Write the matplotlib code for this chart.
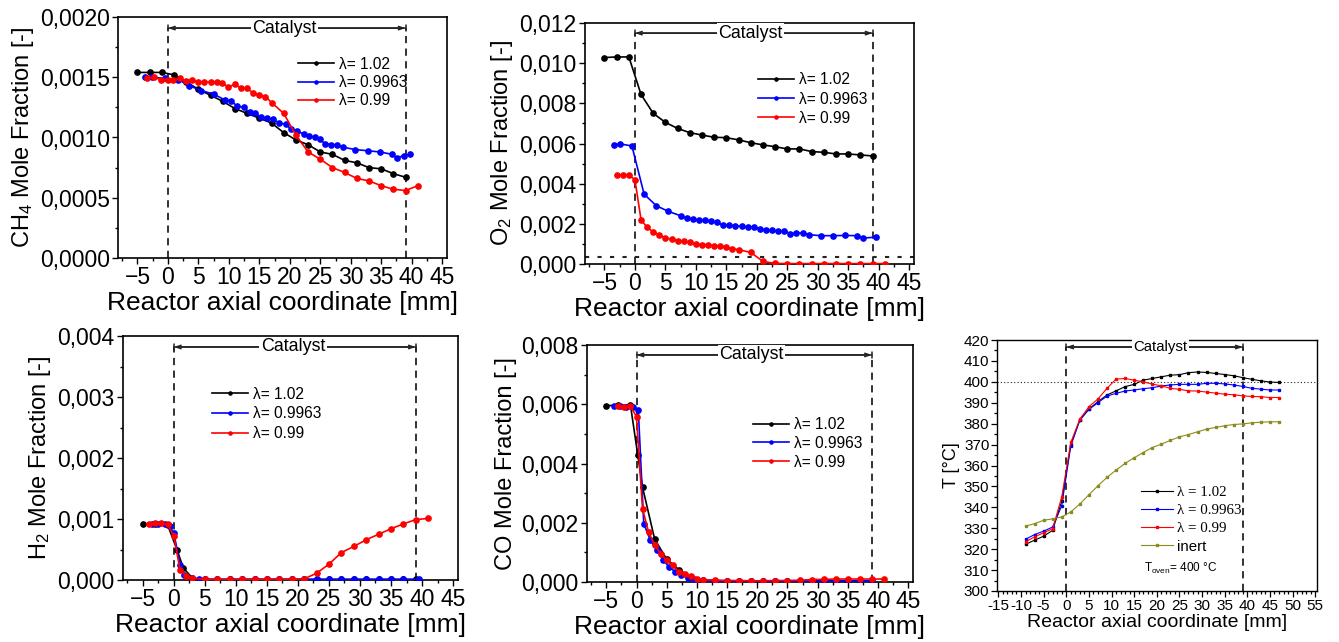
import matplotlib
matplotlib.use("Agg")
import matplotlib.pyplot as plt
from matplotlib.ticker import MultipleLocator, FuncFormatter

plt.rcParams['font.family'] = ['Liberation Sans', 'DejaVu Sans']
plt.rcParams['mathtext.fontset'] = 'custom'
plt.rcParams['mathtext.rm'] = 'Liberation Sans'
plt.rcParams['mathtext.it'] = 'Liberation Sans:italic'

# ---------------- DATA ----------------
labels = ["λ= 1.02", "λ= 0.9963", "λ= 0.99"]
t_labels = ["λ = 1.02", "λ = 0.9963", "λ = 0.99", "inert"]

# CH4
ch4_x_a = [-5, -3, -1, 1, 3, 5, 7, 9, 11, 13, 15, 17, 19, 21, 23, 25, 27, 29, 31, 33, 35, 37, 39]
ch4_y_a = [0.00154, 0.00154, 0.00154, 0.00152, 0.00146, 0.00140, 0.00135, 0.00130, 0.00124, 0.00120,
           0.00116, 0.00112, 0.00104, 0.00098, 0.00094, 0.00088, 0.00086, 0.00081, 0.00079, 0.00075,
           0.00074, 0.00070, 0.00067]
ch4_x_b = [-3.8, -2.6, -0.5, 1.7, 3.5, 5.4, 7.5, 9.4, 10.4, 11.4, 12.4, 13.4, 14.3, 15.3, 16.3, 17.3,
           18.3, 19.3, 20.2, 21.2, 22.3, 23.2, 24.2, 24.9, 25.7, 26.8, 27.7, 28.7, 30.7, 32.8, 34.8,
           36.8, 37.6, 38.7, 39.8]
ch4_y_b = [0.00150, 0.00150, 0.00149, 0.00148, 0.00143, 0.00139, 0.00136, 0.00131, 0.00130, 0.00126,
           0.00125, 0.00121, 0.00120, 0.00117, 0.00116, 0.00115, 0.00112, 0.00111, 0.00107, 0.00105,
           0.00103, 0.00101, 0.00100, 0.00099, 0.00095, 0.00094, 0.00094, 0.00092, 0.00090, 0.00089,
           0.00088, 0.00086, 0.00083, 0.00085, 0.00086]
ch4_x_c = [-3.4, -2.3, -1.1, 0, 0.9, 1.9, 2.9, 3.9, 4.9, 5.9, 7.0, 8.0, 8.9, 9.9, 11, 12, 12.9, 14, 15,
           16, 17, 19, 21, 23, 25, 27, 29, 31, 33, 35, 37, 39, 41]
ch4_y_c = [0.00149, 0.00150, 0.00148, 0.00148, 0.00148, 0.00149, 0.00147, 0.00148, 0.00146, 0.00146,
           0.00146, 0.00146, 0.00145, 0.00142, 0.00144, 0.00141, 0.00141, 0.00137, 0.00135, 0.00134,
           0.00129, 0.00120, 0.00102, 0.00088, 0.00082, 0.00075, 0.00071, 0.00066, 0.00064, 0.00060,
           0.00057, 0.00056, 0.00060]

# O2
o2_x_a = [-5, -3, -1, 1, 3, 5, 7, 9, 11, 13, 15, 17, 19, 21, 23, 25, 27, 29, 31, 33, 35, 37, 39]
o2_y_a = [0.01028, 0.01031, 0.01031, 0.00844, 0.00750, 0.00705, 0.00675, 0.00654, 0.00642, 0.00631,
          0.00629, 0.00618, 0.00604, 0.00593, 0.00584, 0.00573, 0.00573, 0.00560, 0.00556, 0.00548,
          0.00548, 0.00543, 0.00538]
o2_x_b = [-3.5, -2.5, -0.5, 1.5, 3.5, 5.5, 7.5, 8.5, 9.5, 10.5, 11.5, 12.5, 13.5, 14.5, 15.5, 16.5,
          17.5, 18.5, 19.5, 20.5, 21.5, 22.5, 23.5, 24.5, 25.5, 26.5, 27.5, 28.5, 30.5, 32.5, 34.5,
          36.5, 37.5, 39.5]
o2_y_b = [0.00593, 0.00598, 0.00588, 0.00348, 0.00290, 0.00262, 0.00240, 0.00228, 0.00224, 0.00217,
          0.00217, 0.00215, 0.00207, 0.00192, 0.00192, 0.00190, 0.00187, 0.00184, 0.00182, 0.00174,
          0.00170, 0.00167, 0.00162, 0.00166, 0.00151, 0.00154, 0.00154, 0.00146, 0.00141, 0.00141,
          0.00142, 0.00141, 0.00129, 0.00134]
o2_x_c = [-3, -2, -1, 0, 1, 2, 3, 4, 5, 6, 7, 8, 9, 10, 11, 12, 13, 14, 15, 16, 17, 19, 21, 23, 25,
          27, 29, 31, 33, 35, 37, 39, 41]
o2_y_c = [0.00444, 0.00444, 0.00444, 0.00419, 0.00220, 0.00182, 0.00159, 0.00146, 0.00129, 0.00124,
          0.00116, 0.00113, 0.00108, 0.00099, 0.00096, 0.00096, 0.00091, 0.00088, 0.00084, 0.00076,
          0.00071, 0.00058, 0.00013, 0.00003, 0.00002, 0.00002, 0.00002, 0.00002, 0.00002, 0.00002,
          0.00002, 0.00002, 0.00002]
o2_limit = 0.00035

# H2
h2_x_a = [-5, -3, -1, 0.5, 1.5, 3, 5, 7, 9, 11, 13, 15, 17, 19, 21, 23, 25, 27, 29, 31, 33, 35, 37, 39]
h2_y_a = [0.00091, 0.00092, 0.00090, 0.00050, 0.00020, 0.00003, 0.00001, 0.00001, 0.00001, 0.00001,
          0.00001, 0.00001, 0.00001, 0.00001, 0.00001, 0.00001, 0.00001, 0.00001, 0.00001, 0.00001,
          0.00001, 0.00001, 0.00001, 0.00001]
h2_x_b = [-3.5, -2.5, -1.5, -0.7, 0, 1, 1.6, 2.9, 4, 5, 7, 9, 11, 13, 15, 17, 19, 21, 23, 25, 27, 29,
          31, 33, 35, 37, 39.5]
h2_y_b = [0.00092, 0.00092, 0.00092, 0.00088, 0.00077, 0.00025, 0.00008, 0.00003, 0.00001, 0.00001,
          0.00001, 0.00001, 0.00001, 0.00001, 0.00001, 0.00001, 0.00001, 0.00001, 0.00001, 0.00001,
          0.00001, 0.00001, 0.00001, 0.00001, 0.00001, 0.00001, 0.00001]
h2_x_c = [-4, -3, -2, -1, 0, 1, 2, 3, 5, 7, 9, 11, 13, 15, 17, 19, 21, 23, 25, 27, 29, 31, 33, 35,
          37, 39, 41]
h2_y_c = [0.00092, 0.00093, 0.00093, 0.00091, 0.00072, 0.00016, 0.00007, 0.00003, 0.00001, 0.00001,
          0.00001, 0.00001, 0.00001, 0.00001, 0.00001, 0.00001, 0.00002, 0.00011, 0.00026, 0.00045,
          0.00055, 0.00066, 0.00075, 0.00084, 0.00092, 0.00099, 0.00101]

# CO
co_x_a = [-5, -3, -1, 0.2, 1, 3, 5, 7, 9, 11, 13, 15, 17, 19, 21, 23, 25, 27, 29, 31, 33, 35, 37, 39]
co_y_a = [0.00595, 0.00597, 0.00597, 0.00430, 0.00320, 0.00145, 0.00077, 0.00042, 0.00017, 0.00007,
          0.00005, 0.00004, 0.00004, 0.00004, 0.00004, 0.00004, 0.00004, 0.00004, 0.00004, 0.00004,
          0.00004, 0.00004, 0.00004, 0.00004]
co_x_b = [-3.7, -2.7, -1.7, -0.5, 0.3, 1.2, 2.3, 3.4, 4.4, 5.4, 6.4, 7.4, 8.5, 9.6, 11, 13, 15, 17,
          19, 21, 23, 25, 27, 29, 31, 33, 35, 37, 39]
co_y_b = [0.00594, 0.00593, 0.00591, 0.00592, 0.00580, 0.00197, 0.00141, 0.00107, 0.00075, 0.00050,
          0.00035, 0.00022, 0.00015, 0.00009, 0.00005, 0.00003, 0.00003, 0.00003, 0.00003, 0.00003,
          0.00003, 0.00003, 0.00003, 0.00003, 0.00003, 0.00003, 0.00003, 0.00003, 0.00003]
co_x_c = [-3, -2, -1, 0, 1, 2, 3, 4, 5, 6, 7, 8, 9, 10, 11, 13, 15, 17, 19, 21, 23, 25, 27, 29, 31,
          33, 35, 37, 39, 41]
co_y_c = [0.00594, 0.00590, 0.00593, 0.00558, 0.00246, 0.00169, 0.00124, 0.00096, 0.00073, 0.00056,
          0.00034, 0.00026, 0.00019, 0.00011, 0.00008, 0.00006, 0.00005, 0.00005, 0.00004, 0.00004,
          0.00005, 0.00005, 0.00006, 0.00008, 0.00009, 0.00010, 0.00010, 0.00010, 0.00010, 0.00010]

# Temperature
t_x = [-9, -7, -5, -3, -1, 1, 3, 5, 7, 9, 11, 13, 15, 17, 19, 21, 23, 25, 27, 29, 31, 33, 35, 37,
       39, 41, 43, 45, 47]
t_a = [322.3, 324.3, 326.2, 329.0, 343.0, 370.0, 381.7, 387.0, 390.5, 393.7, 395.7, 397.7, 398.8,
       400.8, 401.6, 402.4, 403.2, 403.4, 404.4, 404.7, 404.5, 404.0, 403.5, 402.9, 402.0, 401.2,
       400.5, 399.9, 399.7]
t_b = [324.7, 327.0, 328.6, 330.6, 340.7, 369.3, 381.7, 386.8, 390.0, 393.2, 394.5, 395.6, 396.1,
       396.7, 397.2, 398.0, 398.5, 398.8, 398.8, 398.8, 399.3, 399.3, 399.0, 398.5, 397.8, 396.9,
       396.5, 396.1, 396.1]
t_c = [323.5, 325.9, 327.8, 329.8, 345.0, 371.0, 382.2, 388.1, 391.8, 396.9, 401.3, 401.6, 400.8,
       400.0, 398.9, 398.1, 396.9, 396.4, 395.7, 395.6, 395.1, 394.6, 394.1, 393.8, 393.3, 393.0,
       392.9, 392.5, 392.5]
t_inert = [331.0, 332.2, 333.8, 334.5, 335.4, 337.8, 341.6, 346.0, 350.3, 354.3, 357.8, 361.0,
           363.7, 366.2, 368.6, 370.2, 372.0, 373.7, 374.8, 376.1, 377.4, 378.2, 379.0, 379.6,
           379.9, 380.4, 380.7, 380.9, 380.9]
t_oven = 400
cat_start, cat_end = 0, 39

COLORS = ['#000000', '#0000ff', '#ff0000', '#8c8c1e']

W, H = 1339, 642
fig = plt.figure(figsize=(W / 100, H / 100), dpi=100)


def px_axes(x0, y0, x1, y1):
    return fig.add_axes([x0 / W, 1 - y1 / H, (x1 - x0) / W, (y1 - y0) / H])


def comma_fmt(dec):
    return FuncFormatter(lambda v, p: f"{v:.{dec}f}".replace('.', ','))


def catalyst(ax, ya, fs, tx):
    ax.axvline(cat_start, ymin=0, ymax=ya, color='#222222', ls=(0, (4, 3)), lw=1.3, zorder=1)
    ax.axvline(cat_end, ymin=0, ymax=ya, color='#222222', ls=(0, (4, 3)), lw=1.3, zorder=1)
    trans = ax.get_xaxis_transform()
    ax.annotate('', xy=(cat_start, ya), xytext=(cat_end, ya), xycoords=trans, textcoords=trans,
                arrowprops=dict(arrowstyle='|-|,widthA=0.2,widthB=0.2', lw=1.1, color='#222222',
                                shrinkA=0, shrinkB=0))
    ax.annotate('', xy=(cat_start, ya), xytext=(cat_end, ya), xycoords=trans, textcoords=trans,
                arrowprops=dict(arrowstyle='<->,head_length=0.35,head_width=0.12', lw=1.1,
                                color='#222222', shrinkA=0, shrinkB=0))
    return ax.text(tx, ya, 'Catalyst', transform=trans, ha='center', va='center', fontsize=fs,
                   bbox=dict(facecolor='white', edgecolor='none', pad=1.0), zorder=5)


def style_small(ax, ylim, ystep, dec, ylabel):
    ax.set_xlim(-8.2, 45.8)
    ax.set_ylim(*ylim)
    ax.xaxis.set_major_locator(MultipleLocator(5))
    ax.xaxis.set_minor_locator(MultipleLocator(2.5))
    ax.yaxis.set_major_locator(MultipleLocator(ystep))
    ax.yaxis.set_minor_locator(MultipleLocator(ystep / 2))
    ax.yaxis.set_major_formatter(comma_fmt(dec))
    ax.tick_params(which='both', direction='out', top=False, right=False, width=1.0)
    ax.tick_params(which='major', length=4, labelsize=16.5, pad=2)
    ax.tick_params(which='minor', length=2.5)
    for s in ax.spines.values():
        s.set_linewidth(1.2)
    ax.set_xlabel('Reactor axial coordinate [mm]', fontsize=19, labelpad=1)
    ax.set_ylabel(ylabel, fontsize=17, labelpad=3)


def draw_series(ax, xs, ys):
    for x, y, c, lab in zip(xs, ys, COLORS, labels):
        ax.plot(x, y, color=c, lw=1.2, marker='o', ms=3.8, label=lab, zorder=3)


def legend_small(ax, left, top, spacing=0.22):
    return ax.legend(loc='upper left', bbox_to_anchor=(left, top), frameon=False, fontsize=11.2,
                     borderaxespad=0, borderpad=0, labelspacing=spacing, handlelength=2.3,
                     handletextpad=0.35, markerscale=0.6)


# Panel 1: CH4
ax1 = px_axes(118, 17, 447, 258)
draw_series(ax1, [ch4_x_a, ch4_x_b, ch4_x_c], [ch4_y_a, ch4_y_b, ch4_y_c])
style_small(ax1, (0, 0.002), 0.0005, 4, 'CH$_4$ Mole Fraction [-]')
catalyst(ax1, 0.954, 12.9, 19.1)
legend_small(ax1, 0.547, 0.836)

# Panel 2: O2
ax2 = px_axes(585, 23, 914, 264)
draw_series(ax2, [o2_x_a, o2_x_b, o2_x_c], [o2_y_a, o2_y_b, o2_y_c])
ax2.axhline(o2_limit, color='#222222', ls=(0, (2, 4)), lw=1.5, zorder=1)
style_small(ax2, (0, 0.012), 0.002, 3, 'O$_2$ Mole Fraction [-]')
catalyst(ax2, 0.958, 12.9, 19.0)
legend_small(ax2, 0.526, 0.796, 0.28)

# Panel 3: H2
ax3 = px_axes(123, 336, 458, 580)
draw_series(ax3, [h2_x_a, h2_x_b, h2_x_c], [h2_y_a, h2_y_b, h2_y_c])
style_small(ax3, (0, 0.004), 0.001, 3, 'H$_2$ Mole Fraction [-]')
catalyst(ax3, 0.955, 12.9, 19.2)
legend_small(ax3, 0.265, 0.792, 0.3)

# Panel 4: CO
ax4 = px_axes(587, 345, 913, 582)
draw_series(ax4, [co_x_a, co_x_b, co_x_c], [co_y_a, co_y_b, co_y_c])
style_small(ax4, (0, 0.008), 0.002, 3, 'CO Mole Fraction [-]')
catalyst(ax4, 0.958, 12.9, 19.0)
legend_small(ax4, 0.509, 0.696, 0.25)

# Panel 5: Temperature
ax5 = px_axes(997, 340, 1317, 591)
for y, c, lab in zip([t_a, t_b, t_c, t_inert], COLORS, t_labels):
    ax5.plot(t_x, y, color=c, lw=0.8, marker='s', ms=2.0, label=lab, zorder=3)
ax5.axhline(t_oven, color='#222222', ls=(0, (1, 2)), lw=0.8, zorder=1)
ax5.set_xlim(-15.3, 55.4)
ax5.set_ylim(300, 420)
ax5.xaxis.set_major_locator(MultipleLocator(5))
ax5.xaxis.set_minor_locator(MultipleLocator(1))
ax5.yaxis.set_major_locator(MultipleLocator(10))
ax5.yaxis.set_minor_locator(MultipleLocator(5))
ax5.xaxis.set_major_formatter(FuncFormatter(lambda v, p: f"{v:.0f}"))
ax5.tick_params(which='both', direction='out', top=False, right=False, width=0.9)
ax5.tick_params(which='major', length=4, labelsize=11, pad=1.5)
ax5.tick_params(which='minor', length=2)
for s in ax5.spines.values():
    s.set_linewidth(1.0)
ax5.set_xlabel('Reactor axial coordinate [mm]', fontsize=14, labelpad=1)
ax5.set_ylabel('T [°C]', fontsize=13, labelpad=3)
catalyst(ax5, 0.972, 10.8, 20.8)
leg5 = ax5.legend(loc='upper left', bbox_to_anchor=(0.45, 0.42), frameon=False, fontsize=10.8,
                  borderaxespad=0, borderpad=0, labelspacing=0.3, handlelength=2.1,
                  handletextpad=0.3, markerscale=1.0)
for i, t in enumerate(leg5.get_texts()):
    if i < 3:
        t.set_family(['Liberation Serif', 'DejaVu Serif'])
ax5.text(17.2, 311, 'T$_{\\mathrm{oven}}$= 400 °C', fontsize=8.5, ha='left', va='center')

fig.savefig('out.png', dpi=100)
